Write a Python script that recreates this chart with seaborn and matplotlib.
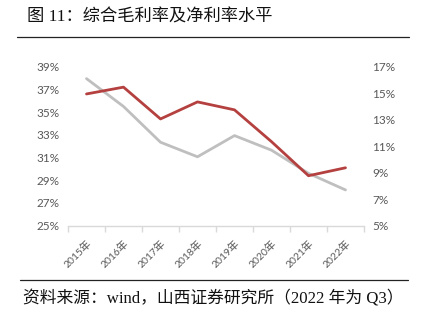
import matplotlib
matplotlib.use("Agg")
import matplotlib.pyplot as plt
import seaborn as sns
import pandas as pd
from matplotlib.lines import Line2D
from matplotlib.ticker import FixedLocator, PercentFormatter

years = ["2015年", "2016年", "2017年", "2018年", "2019年", "2020年", "2021年", "2022年"]
gross_margin = [36.6, 37.2, 34.4, 35.9, 35.2, 32.4, 29.4, 30.1]   # left axis (%)
net_margin = [16.1, 14.0, 11.3, 10.2, 11.8, 10.7, 8.95, 7.7]       # right axis (%)
left_ticks = [25, 27, 29, 31, 33, 35, 37, 39]
right_ticks = [5, 7, 9, 11, 13, 15, 17]

title_text = "图 11：综合毛利率及净利率水平"
source_text = "资料来源：wind，山西证券研究所（2022 年为 Q3）"

sns.set_theme(style="white")
plt.rcParams["font.family"] = ["Lato", "Noto Sans CJK SC", "DejaVu Sans"]

W, H = 421, 322
fig = plt.figure(figsize=(W / 100, H / 100), dpi=100)

ax = fig.add_axes([68 / W, 1 - 225.7 / H, (364 - 68) / W, (225.7 - 66.7) / H])
ax2 = ax.twinx()

df = pd.DataFrame({"year": years, "gross": gross_margin, "net": net_margin})
red = "#B4413F"
grey = "#BFBFBF"
sns.lineplot(data=df, x="year", y="gross", ax=ax, color=red, linewidth=2.0, sort=False, zorder=3)
sns.lineplot(data=df, x="year", y="net", ax=ax2, color=grey, linewidth=2.0, sort=False, zorder=2)
ax.set_zorder(ax2.get_zorder() + 1)
ax.patch.set_visible(False)

ax.set_xlim(-0.5, len(years) - 0.5)
ax.set_ylim(25, 39)
ax2.set_ylim(5, 17)
ax.set_yticks(left_ticks)
ax2.set_yticks(right_ticks)
ax.yaxis.set_major_formatter(PercentFormatter(decimals=0))
ax2.yaxis.set_major_formatter(PercentFormatter(decimals=0))
ax.set_xlabel("")
ax.set_ylabel("")
ax2.set_ylabel("")

tick_col = "#595959"
for a in (ax, ax2):
    for s in a.spines.values():
        s.set_visible(False)
    a.grid(False)
ax.spines["bottom"].set_visible(True)
ax.spines["bottom"].set_color("#D9D9D9")
ax.spines["bottom"].set_linewidth(1.0)

ax.tick_params(axis="y", length=0, pad=6, labelsize=8.5, labelcolor=tick_col)
ax2.tick_params(axis="y", length=0, pad=6, labelsize=8.5, labelcolor=tick_col)

ax.set_xticks(range(len(years)))
ax.set_xticklabels(years, rotation=45, ha="right", rotation_mode="anchor",
                   fontsize=7.5, color=tick_col)
ax.tick_params(axis="x", which="major", length=0, pad=9)
ax.xaxis.set_minor_locator(FixedLocator([i - 0.5 for i in range(len(years) + 1)]))
ax.tick_params(axis="x", which="minor", length=4, width=1.0, color="#D9D9D9", direction="out")
ax.tick_params(axis="x", which="minor", bottom=True)

serif_cjk = ["Liberation Serif", "Noto Sans CJK SC"]
fig.text(27 / W, 1 - 17 / H, title_text, fontsize=12.4, family=serif_cjk,
         va="center", ha="left", color="#111111")
fig.add_artist(Line2D([17 / W, 409 / W], [1 - 37 / H, 1 - 37 / H], color="#222222", linewidth=0.9))
fig.add_artist(Line2D([20 / W, 408 / W], [1 - 280 / H, 1 - 280 / H], color="#222222", linewidth=0.9))
fig.text(23 / W, 1 - 298 / H, source_text, fontsize=12.1, family=serif_cjk,
         va="center", ha="left", color="#111111")

fig.savefig("out.png", dpi=100)
